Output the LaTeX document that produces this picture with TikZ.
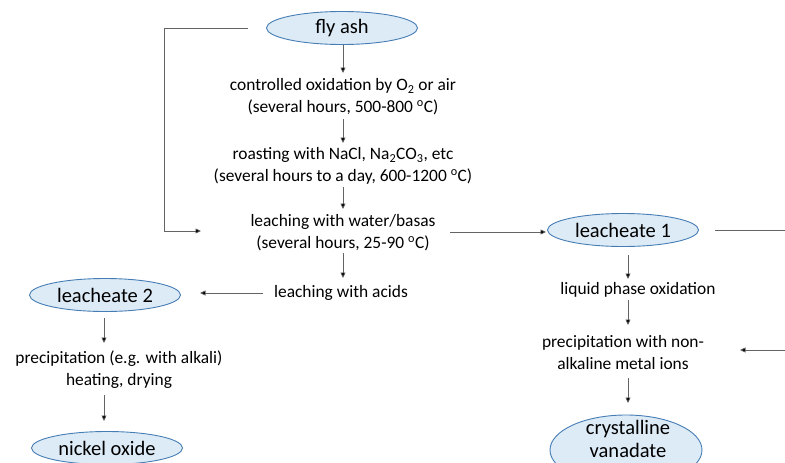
\documentclass[tikz,border=0pt]{standalone}
\usepackage{fontspec}
\setmainfont{Carlito}
\usetikzlibrary{shapes.geometric,arrows.meta}
\definecolor{ellfill}{RGB}{221,235,247}
\definecolor{elldraw}{RGB}{70,125,180}
\definecolor{linec}{RGB}{100,100,100}
\tikzset{
  ell/.style={ellipse, draw=elldraw, fill=ellfill, line width=0.9pt, minimum width=151pt, minimum height=33pt, inner sep=0pt, font=\fontsize{20.5}{23}\selectfont, align=center},
  txt/.style={font=\fontsize{17.4}{22}\selectfont, align=center, inner sep=0pt},
  arr/.style={draw=linec, line width=0.7pt, -{Triangle[length=5.5pt,width=5pt,fill=black]}},
  ln/.style={draw=linec, line width=0.9pt}
}
\begin{document}
\begin{tikzpicture}[x=1pt,y=-1pt]
\useasboundingbox (0,0) rectangle (785,463);
% nodes
\node[ell] (fly) at (342,28) {fly ash};
\node[txt] (ox) at (343,97) {controlled oxidation by O\textsubscript{2} or air\\(several hours, 500-800 \textsuperscript{o}C)};
\node[txt] (roast) at (343,166) {roasting with NaCl, Na\textsubscript{2}CO\textsubscript{3}, etc\\(several hours to a day, 600-1200 \textsuperscript{o}C)};
\node[txt] (leachw) at (343,232.5) {leaching with water/basas\\(several hours, 25-90 \textsuperscript{o}C)};
\node[txt] (acids) at (341,293) {leaching with acids};
\node[ell] (l2) at (105,295) {leacheate 2};
\node[txt] (prec2) at (119,370) {precipitation (e.g. with alkali)\\heating, drying};
\node[ell] (nick) at (107,448) {nickel oxide};
\node[ell] (l1) at (623,230) {leacheate 1};
\node[txt] (liq) at (638,290) {liquid phase oxidation};
\node[txt] (prec1) at (623,352.5) {precipitation with non-\\alkaline metal ions};
\node[ell, minimum height=70pt, minimum width=152pt] (cryst) at (626,450) {};
\node[ell, draw=none, fill=none, minimum width=0pt, minimum height=0pt] (crystt) at (628,438.5) {crystalline\\vanadate};
% helper coordinates
\coordinate (a1s) at (343,45);
\coordinate (a1e) at (343,73);
\coordinate (a2s) at (343,119);
\coordinate (a2e) at (343,143);
\coordinate (a3s) at (343,187);
\coordinate (a3e) at (343,209);
\coordinate (a4s) at (343,253);
\coordinate (a4e) at (343,278);
\coordinate (b1s) at (263,293);
\coordinate (b1e) at (200,293);
\coordinate (c1s) at (104,318);
\coordinate (c1e) at (104,343);
\coordinate (c2s) at (104,395);
\coordinate (c2e) at (104,421);
\coordinate (d1s) at (450,232);
\coordinate (d1e) at (546,232);
\coordinate (d2s) at (628,255);
\coordinate (d2e) at (628,279);
\coordinate (d3s) at (628,300);
\coordinate (d3e) at (628,325);
\coordinate (d4s) at (628,378);
\coordinate (d4e) at (628,403);
\coordinate (r1s) at (715,230);
\coordinate (r1e) at (785,230);
\coordinate (r2s) at (785,350);
\coordinate (r2e) at (740,350);
\coordinate (lp0) at (248,28);
\coordinate (lp1) at (164,28);
\coordinate (lp2) at (164,231);
\coordinate (lp3) at (201,231);
% connectors
\draw[arr] (a1s) -- (a1e);
\draw[arr] (a2s) -- (a2e);
\draw[arr] (a3s) -- (a3e);
\draw[arr] (a4s) -- (a4e);
\draw[arr] (b1s) -- (b1e);
\draw[arr] (c1s) -- (c1e);
\draw[arr] (c2s) -- (c2e);
\draw[arr] (d1s) -- (d1e);
\draw[arr] (d2s) -- (d2e);
\draw[arr] (d3s) -- (d3e);
\draw[arr] (d4s) -- (d4e);
\draw[ln] (r1s) -- (r1e);
\draw[arr] (r2s) -- (r2e);
\draw[arr] (lp0) -- (lp1) -- (lp2) -- (lp3);
\end{tikzpicture}
\end{document}
